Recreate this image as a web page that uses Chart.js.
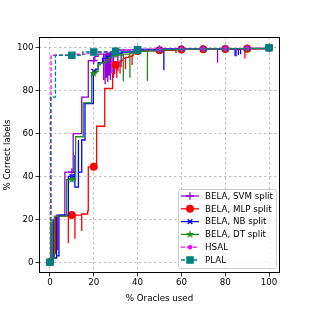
<!DOCTYPE html>
<html>
<head>
<meta charset="utf-8">
<script src="https://cdn.jsdelivr.net/npm/chart.js@4.4.0/dist/chart.umd.min.js"></script>
<style>html,body{margin:0;padding:0;background:#fff}</style>
</head>
<body>
<canvas id="myChart" width="312" height="312"></canvas>
<script>
// values (x = % oracles used, y = % correct labels)
const labels = ['BELA, SVM split', 'BELA, MLP split', 'BELA, NB split', 'BELA, DT split', 'HSAL', 'PLAL'];
const tickValues = [0, 20, 40, 60, 80, 100];
const markerX = [0, 10, 20, 30, 40, 50, 60, 70, 80, 90, 100];
const plalMarkerX = [0, 10, 20, 30, 40, 100];

const svmX = [0, 0.5, 0.5, 1.5, 1.5, 2.5, 3, 6.8, 10, 10.6, 14.5, 17.5, 20, 20.5, 22, 24.5, 24.5, 25.2, 25.2, 25.8, 25.8, 26.4, 26.4, 27, 27, 27.6, 27.6, 28.3, 28.3, 29, 29, 30, 31, 31, 32.5, 32.5, 40, 50, 60, 70, 76.5, 76.5, 80, 85, 85, 90, 100];
const svmY = [0, 15, 3, 19, 5, 21, 22, 42, 42, 60, 77, 94, 94, 96, 97, 85, 97, 83, 97, 86, 97.5, 84, 97.5, 87, 97.5, 85, 98, 88, 98, 86, 98, 98.5, 89, 99, 91, 99, 99.3, 99.4, 99.5, 99.5, 93, 99.6, 99.6, 96, 99.6, 99.7, 100];

const mlpX = [0, 0.5, 0.5, 1.5, 1.5, 2.5, 2.5, 3.5, 8.4, 8.4, 10, 11.4, 11.4, 14.5, 14.5, 17.2, 17.5, 20, 21.3, 25, 28.6, 29.5, 30, 30.5, 30.5, 32, 32, 33.5, 34.5, 34.5, 36, 37.5, 37.5, 38, 40, 50, 57.5, 57.5, 60, 70, 80, 89, 89, 90, 100];
const mlpY = [0, 14, 2, 18, 4, 20, 6, 21.5, 9, 21.5, 22, 11, 22, 14.6, 22.5, 24, 44.5, 44.5, 63.4, 81, 88, 92, 92, 86, 93, 88, 94, 95, 90, 95.5, 96, 92, 96.5, 98, 98.5, 98.8, 97.5, 99, 99.2, 99.3, 99.4, 95, 99.5, 99.5, 100];

const nbX = [0, 0.5, 0.5, 1.5, 1.5, 3, 3, 4.1, 8.4, 10, 11.4, 11.4, 13, 13, 14.5, 16, 19.8, 20, 21, 22, 24, 26, 28, 30, 33, 40, 50, 52, 52, 60, 70, 80, 84.5, 84.5, 86, 86, 87, 87, 90, 100];
const nbY = [0, 18, 1, 20, 2, 21, 3, 22, 40, 40, 50, 35, 57, 42, 57, 74, 89, 89, 90, 93, 95, 96, 97, 97.5, 98, 99, 99.2, 89.5, 99.3, 99.4, 99.5, 99.5, 96, 99.5, 96.5, 99.5, 97, 99.6, 99.6, 100];

const dtX = [0, 0.3, 0.3, 1, 1, 2, 7.6, 10, 11.7, 15.2, 19, 20, 21, 22, 23, 25, 26, 27, 28, 30, 33.5, 33.5, 36.5, 36.5, 38, 40, 44.5, 44.5, 50, 60, 70, 80, 90, 100];
const dtY = [0, 19, 1, 20, 2, 21.5, 38.5, 38.5, 58.5, 74.3, 88, 88, 89, 92, 93, 93.5, 94.5, 95.5, 96.5, 96.6, 84.4, 97, 86, 97.5, 98, 98.3, 84.5, 98.5, 99, 99.3, 99.4, 99.5, 99.6, 100];

const hsalX = [0, 0.5, 10, 17, 20, 30, 40, 50, 60, 70, 80, 90, 100];
const hsalY = [0, 96.5, 97, 97.5, 98, 98.5, 99, 99.2, 99.4, 99.5, 99.6, 99.7, 100];

const plalX = [0, 0.3, 2.5, 10, 15, 20, 30, 40, 50, 60, 70, 80, 90, 100];
const plalY = [0, 77, 96.5, 96.5, 98, 98, 98.3, 99, 99.2, 99.4, 99.5, 99.6, 99.7, 100];

const colors = ['#9400d3', '#ff0000', '#0000ff', '#228b22', '#ff00ff', '#008080'];

// filled star marker like matplotlib '*'
function starImage(color, r) {
  const cv = document.createElement('canvas');
  cv.width = cv.height = Math.ceil(r * 2 + 2);
  const g = cv.getContext('2d');
  const c = cv.width / 2;
  g.beginPath();
  for (let i = 0; i < 10; i++) {
    const rad = i % 2 === 0 ? r : r * 0.42;
    const a = -Math.PI / 2 + i * Math.PI / 5;
    g.lineTo(c + rad * Math.cos(a), c + rad * Math.sin(a));
  }
  g.closePath();
  g.fillStyle = color;
  g.fill();
  return cv;
}
const star = starImage(colors[3], 4.2);

const styles = [
  {pointStyle: 'cross', radius: 3.8, dash: []},
  {pointStyle: 'circle', radius: 3.3, dash: []},
  {pointStyle: 'crossRot', radius: 3.3, dash: []},
  {pointStyle: star, radius: 4, dash: []},
  {pointStyle: 'circle', radius: 1.6, dash: [4, 2]},
  {pointStyle: 'rect', radius: 4.4, dash: [4, 2]}
];

const series = [[svmX, svmY], [mlpX, mlpY], [nbX, nbY], [dtX, dtY], [hsalX, hsalY], [plalX, plalY]];

const datasets = series.map(function (s, i) {
  const xs = s[0], ys = s[1];
  const mx = i === 5 ? plalMarkerX : markerX;
  const marks = new Set(mx.map(m => xs.indexOf(m)).filter(k => k >= 0));
  return {
    label: labels[i],
    data: xs.map((x, k) => ({x: x, y: ys[k]})),
    stepped: 'before',
    borderColor: colors[i],
    backgroundColor: colors[i],
    borderWidth: 1.3,
    borderDash: styles[i].dash,
    pointStyle: styles[i].pointStyle,
    pointRadius: ctx => marks.has(ctx.dataIndex) ? styles[i].radius : 0,
    pointBorderWidth: 1.3,
    pointHoverRadius: 0,
    order: 6 - i
  };
});

const font = {family: 'DejaVu Sans', size: 8.7};

const framePlugin = {
  id: 'frame',
  afterDatasetsDraw(chart) {
    const a = chart.chartArea, c = chart.ctx;
    c.save();
    c.strokeStyle = '#000';
    c.lineWidth = 1;
    c.strokeRect(a.left + 0.5, a.top + 0.5, a.right - a.left - 1, a.bottom - a.top - 1);
    c.restore();
  }
};

const legendPlugin = {
  id: 'boxLegend',
  afterDraw(chart) {
    const c = chart.ctx;
    const bx = 178, by = 189, bw = 98, bh = 79;
    c.save();
    c.beginPath();
    c.roundRect(bx + 0.5, by + 0.5, bw, bh, 2);
    c.fillStyle = 'rgba(255,255,255,0.8)';
    c.fill();
    c.strokeStyle = '#cccccc';
    c.lineWidth = 1;
    c.stroke();
    c.font = '8.7px "DejaVu Sans"';
    c.textBaseline = 'middle';
    labels.forEach(function (lab, i) {
      const y = 196 + i * 12.8;
      c.strokeStyle = colors[i];
      c.fillStyle = colors[i];
      c.lineWidth = 1.3;
      c.setLineDash(styles[i].dash);
      c.beginPath();
      c.moveTo(181, y);
      c.lineTo(199, y);
      c.stroke();
      c.setLineDash([]);
      Chart.helpers.drawPoint(c, {pointStyle: styles[i].pointStyle, radius: styles[i].radius, rotation: 0, borderWidth: 1.3}, 190, y);
      c.fillStyle = '#000';
      c.fillText(lab, 205, y + 0.5);
    });
    c.restore();
  }
};

const ctx = document.getElementById('myChart').getContext('2d');
const myChart = new Chart(ctx, {
  type: 'line',
  data: {datasets: datasets},
  plugins: [framePlugin, legendPlugin],
  options: {
    responsive: false,
    animation: false,
    events: [],
    layout: {padding: {left: 0, right: 32, top: 37, bottom: 0}},
    plugins: {legend: {display: false}, tooltip: {enabled: false}},
    scales: {
      x: {
        type: 'linear', min: -5, max: 105,
        afterBuildTicks: s => { s.ticks = tickValues.map(v => ({value: v})); },
        afterFit: s => { s.height = 39; },
        grid: {color: '#b0b0b0', lineWidth: 0.8, tickColor: '#000', tickLength: 3.5, tickWidth: 0.8},
        border: {display: false, dash: [2.5, 2.5]},
        ticks: {color: '#000', font: font, padding: 1, maxRotation: 0},
        title: {display: true, text: '% Oracles used', color: '#000', font: font, padding: {top: 0, bottom: 8}}
      },
      y: {
        type: 'linear', min: -5, max: 105,
        afterBuildTicks: s => { s.ticks = tickValues.map(v => ({value: v})); },
        afterFit: s => { s.width = 39; },
        grid: {color: '#b0b0b0', lineWidth: 0.8, tickColor: '#000', tickLength: 3.5, tickWidth: 0.8},
        border: {display: false, dash: [2.5, 2.5]},
        ticks: {color: '#000', font: font, padding: 2},
        title: {display: true, text: '% Correct labels', color: '#000', font: font, padding: {top: 3, bottom: 0}}
      }
    }
  }
});
</script>
</body>
</html>
